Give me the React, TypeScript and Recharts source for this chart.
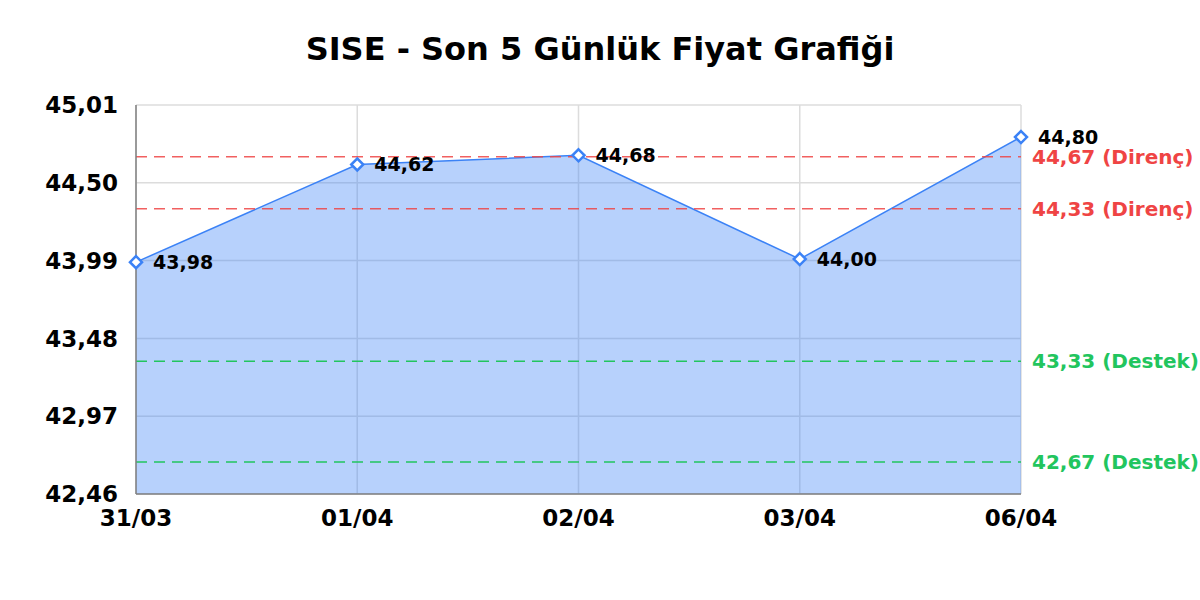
import { AreaChart, Area, XAxis, YAxis, CartesianGrid, ReferenceLine, LabelList } from 'recharts';

const dates = ['31/03', '01/04', '02/04', '03/04', '06/04'];
const prices = [43.98, 44.62, 44.68, 44.0, 44.8];
const yTicks = [42.46, 42.97, 43.48, 43.99, 44.5, 45.01];
const resistanceLevels = [44.67, 44.33];
const supportLevels = [43.33, 42.67];

const FONT = '"DejaVu Sans", sans-serif';
const BLUE = '#3b82f6';
const RED = '#ef4444';
const GREEN = '#22c55e';

const fmt = (v: number) => v.toFixed(2).replace('.', ',');

const DiamondDot = (props: any) => {
  const { cx, cy } = props;
  if (cx == null || cy == null) {return null;}
  const r = 6;
  return (
    <path
      d={`M${cx},${cy - r}L${cx + r},${cy}L${cx},${cy + r}L${cx - r},${cy}Z`}
      fill="#fff"
      stroke={BLUE}
      strokeWidth={2.5}
    />
  );
};

export default function App() {
  const data = dates.map((d, i) => ({ date: d, price: prices[i] }));

  return (
    <div style={{ position: 'absolute', left: 0, top: 0, width: 1200, height: 600, background: '#fff' }}>
      <div
        style={{
          position: 'absolute',
          top: 33,
          left: 0,
          width: 1200,
          textAlign: 'center',
          fontFamily: FONT,
          fontWeight: 'bold',
          fontSize: 32,
          lineHeight: '32px',
          color: '#000',
        }}
      >
        SISE - Son 5 Günlük Fiyat Grafiği
      </div>
      <AreaChart
        width={1200}
        height={600}
        data={data}
        margin={{ top: 105, right: 179, bottom: 76, left: 0 }}
        style={{ fontFamily: FONT }}
      >
        <CartesianGrid stroke="#dcdcdc" strokeWidth={1.5} vertical horizontal />
        <XAxis
          dataKey="date"
          height={30}
          axisLine={{ stroke: '#808080', strokeWidth: 1.5 }}
          tickLine={false}
          tickSize={0}
          tickMargin={16}
          interval={0}
          tick={{ fill: '#000', fontSize: 23, fontWeight: 'bold' }}
        />
        <YAxis
          domain={[42.46, 45.01]}
          ticks={yTicks}
          interval={0}
          width={136}
          axisLine={{ stroke: '#808080', strokeWidth: 1.5 }}
          tickLine={false}
          tickSize={0}
          tickMargin={18}
          tickFormatter={fmt}
          tick={{ fill: '#000', fontSize: 23, fontWeight: 'bold' }}
        />
        <Area
          type="linear"
          dataKey="price"
          stroke={BLUE}
          strokeWidth={1.5}
          fill={BLUE}
          fillOpacity={0.37}
          dot={<DiamondDot />}
          activeDot={false}
          isAnimationActive={false}
        />
        {resistanceLevels.map((v) => (
          <ReferenceLine
            key={`r-${v}`}
            y={v}
            stroke={RED}
            strokeOpacity={0.85}
            strokeWidth={1.5}
            strokeDasharray="11 7"
            label={{
              value: `${fmt(v)} (Direnç)`,
              position: 'right',
              offset: 11,
              fill: RED,
              fontSize: 20,
              fontWeight: 'bold',
            }}
          />
        ))}
        {supportLevels.map((v) => (
          <ReferenceLine
            key={`s-${v}`}
            y={v}
            stroke={GREEN}
            strokeWidth={1.5}
            strokeDasharray="11 7"
            label={{
              value: `${fmt(v)} (Destek)`,
              position: 'right',
              offset: 11,
              fill: GREEN,
              fontSize: 20,
              fontWeight: 'bold',
            }}
          />
        ))}
        <Area
          type="linear"
          dataKey="price"
          stroke="none"
          fill="none"
          dot={false}
          activeDot={false}
          isAnimationActive={false}
        >
          <LabelList
            dataKey="price"
            position="right"
            offset={17}
            formatter={(v: any) => fmt(Number(v))}
            style={{ fill: '#000', fontSize: 19, fontWeight: 'bold' }}
          />
        </Area>
      </AreaChart>
    </div>
  );
}
